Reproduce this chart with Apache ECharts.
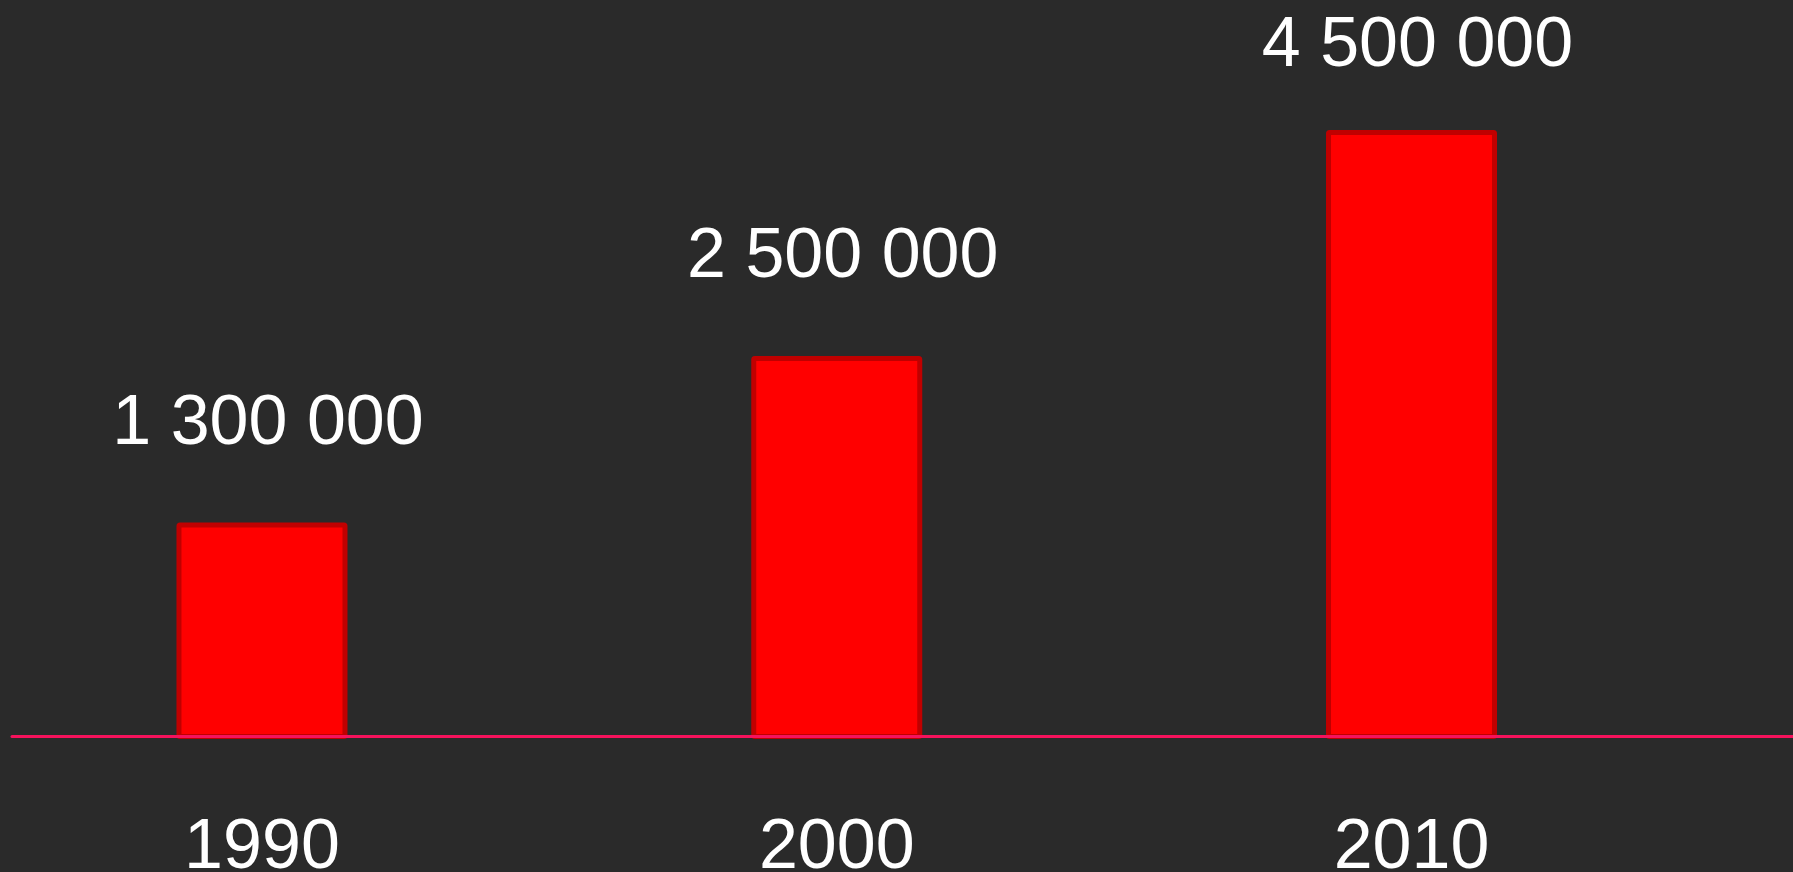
<!DOCTYPE html>
<html>
<head>
<meta charset="utf-8">
<script src="https://cdn.jsdelivr.net/npm/echarts@6/dist/echarts.min.js"></script>
<style>
  html, body { margin: 0; padding: 0; background: #2a2a2a; }
  #chart { width: 1793px; height: 872px; }
</style>
</head>
<body>
<div id="chart"></div>
<script>
// Categories (years)
const categories = ['1990', '2000', '2010'];
// Values printed above the bars
const valueLabels = [1300000, 2500000, 4500000];
// Bar heights as drawn in the picture (read on a scale where the 2010 bar = 4 500 000)
const barValues = [1600000, 2830000, 4500000];

const FONT = '"Comic Sans MS", "Liberation Sans", Arial, sans-serif';

function fmt(v) {
  return String(v).replace(/\B(?=(\d{3})+(?!\d))/g, ' ');
}

const chart = echarts.init(document.getElementById('chart'));

const data = barValues.map((v, i) => ({
  value: v,
  label: { distance: i === 2 ? 48 : 63 }
}));

chart.setOption({
  backgroundColor: '#2a2a2a',
  animation: false,
  grid: [
    { left: -25.4, right: 94.1, top: 62.3, bottom: 133, containLabel: false, outerBoundsMode: 'none' },
    { left: 12, right: 0, top: 62.3, bottom: 135.5, containLabel: false, outerBoundsMode: 'none' }
  ],
  xAxis: [
    {
      type: 'category',
      gridIndex: 0,
      data: categories,
      axisLine: { show: false },
      axisTick: { show: false },
      axisLabel: {
        color: '#ffffff',
        fontSize: 70,
        lineHeight: 70,
        fontFamily: FONT,
        margin: 75
      }
    },
    {
      type: 'value',
      gridIndex: 1,
      min: 0,
      max: 1,
      axisLine: { show: true, onZero: false, lineStyle: { color: '#f5125c', width: 3 } },
      axisTick: { show: false },
      axisLabel: { show: false },
      splitLine: { show: false },
      z: 5
    }
  ],
  yAxis: [
    {
      type: 'value',
      gridIndex: 0,
      min: 0,
      max: 5000000,
      show: false,
      splitLine: { show: false }
    },
    {
      type: 'value',
      gridIndex: 1,
      min: 0,
      max: 1,
      show: false,
      splitLine: { show: false }
    }
  ],
  series: [
    {
      type: 'bar',
      xAxisIndex: 0,
      yAxisIndex: 0,
      data: data,
      barWidth: 171,
      itemStyle: {
        color: '#ff0000',
        borderColor: '#c00000',
        borderWidth: 5,
        borderRadius: 1
      },
      label: {
        show: true,
        position: 'top',
        offset: [6, 0],
        color: '#ffffff',
        fontSize: 70,
        lineHeight: 70,
        fontFamily: FONT,
        formatter: p => fmt(valueLabels[p.dataIndex])
      }
    }
  ]
});
</script>
</body>
</html>
